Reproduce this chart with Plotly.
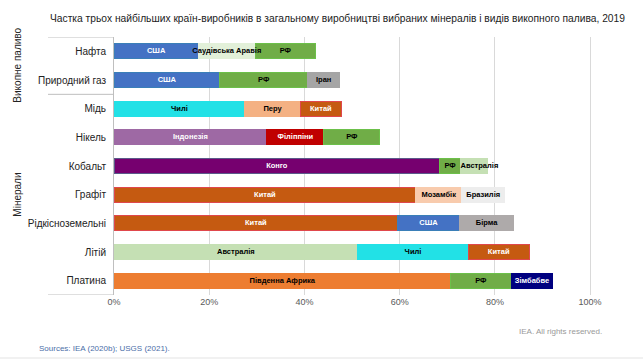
import plotly.graph_objects as go

categories = ["Нафта", "Природний газ", "Мідь", "Нікель", "Кобальт", "Графіт",
              "Рідкісноземельні", "Літій", "Платина"]
country1 = ["США", "США", "Чилі", "Індонезія", "Конго", "Китай", "Китай", "Австралія", "Південна Африка"]
share1 = [17.7, 22.2, 27.5, 32.1, 68.4, 63.4, 59.6, 51.2, 70.7]
country2 = ["Саудівська Аравія", "РФ", "Перу", "Філіппіни", "РФ", "Мозамбік", "США", "Чилі", "РФ"]
share2 = [12.0, 18.5, 11.6, 12.0, 4.4, 9.6, 12.9, 23.2, 12.7]
country3 = ["РФ", "Іран", "Китай", "РФ", "Австралія", "Бразилія", "Бірма", "Китай", "Зімбабве"]
share3 = [12.6, 6.7, 8.7, 11.7, 5.7, 9.1, 11.5, 12.8, 8.8]
x_ticks = [0, 20, 40, 60, 80, 100]
groups = ["Викопне паливо", "Мінерали"]

FILL = {
    "США": "#4472C4", "Саудівська Аравія": "#E2F0D9", "РФ": "#70AD47", "Іран": "#A5A5A5",
    "Чилі": "#22E1E6", "Перу": "#F4B183", "Китай": "#C55A11", "Індонезія": "#9E69A4",
    "Філіппіни": "#C00000", "Конго": "#76006F", "Австралія": "#C5E0B4", "Мозамбік": "#F8CBAD",
    "Бразилія": "#EDEDED", "Бірма": "#AEAAAA", "Південна Африка": "#ED7D31", "Зімбабве": "#000080",
}
EDGE = {"Китай": "#E0474C", "США": "#3A7FB8", "РФ": "#6CC04A", "Конго": "#5A5A8A"}
WHITE_TEXT = {"США", "Китай", "Індонезія", "Філіппіни", "Конго", "Зімбабве"}
# label alignment inside the third segment ("c" centred, "l" from the segment's left edge)
align3 = ["c", "c", "c", "c", "l", "c", "c", "c", "c"]

FONT = "Liberation Sans, Arial, sans-serif"

fig = go.Figure()
for countries, shares in [(country1, share1), (country2, share2), (country3, share3)]:
    fig.add_trace(go.Bar(
        y=categories, x=shares, orientation="h",
        marker=dict(color=[FILL[c] for c in countries],
                    line=dict(color=[EDGE.get(c, FILL[c]) for c in countries], width=1)),
        hoverinfo="skip", showlegend=False,
    ))

# labels drawn on top of all bars
lab_x, lab_y, lab_t, lab_c, lab_p = [], [], [], [], []
for i, cat in enumerate(categories):
    b1, b2 = share1[i], share1[i] + share2[i]
    segs = [(country1[i], 0, share1[i], "c"), (country2[i], b1, share2[i], "c"),
            (country3[i], b2, share3[i], align3[i])]
    for name, base, width, al in segs:
        lab_y.append(cat)
        lab_t.append(name)
        lab_c.append("#FFFFFF" if name in WHITE_TEXT else "#000000")
        if al == "l":
            lab_x.append(base)
            lab_p.append("middle right")
        else:
            lab_x.append(base + width / 2)
            lab_p.append("middle center")

fig.add_trace(go.Scatter(
    x=lab_x, y=lab_y, mode="text", text=lab_t, textposition=lab_p,
    textfont=dict(family=FONT, size=7.5, color=lab_c, weight="bold"),
    hoverinfo="skip", showlegend=False,
))

L, R_PX, T, B = 114, 592, 37, 295
W = R_PX - L
H = B - T

def px(x):
    return (x - L) / W

def py(y):
    return (B - y) / H

fig.update_layout(
    width=643, height=360,
    margin=dict(l=L, r=643 - R_PX, t=T, b=360 - B),
    barmode="stack", bargap=0.48,
    plot_bgcolor="white", paper_bgcolor="white",
    font=dict(family=FONT, color="#333333"),
    title=dict(text="Частка трьох найбільших країн-виробників в загальному виробництві вибраних мінералів і видів викопного палива, 2019",
               x=50 / 643, xanchor="left", xref="container",
               y=1 - 18 / 360, yanchor="middle", yref="container",
               font=dict(family=FONT, size=10.25, color="#222222")),
    xaxis=dict(range=[0, 100.4], tickvals=x_ticks, ticktext=[f"{v}%" for v in x_ticks],
               showgrid=True, gridcolor="#D9D9D9", gridwidth=1, zeroline=False,
               showline=False, ticks="", tickfont=dict(family=FONT, size=9, color="#595959")),
    yaxis=dict(categoryorder="array", categoryarray=categories, range=[8.5, -0.5],
               autorange=False, showgrid=False, showline=True, linecolor="#BFBFBF", linewidth=1,
               ticks="", ticklabelstandoff=5,
               tickfont=dict(family=FONT, size=10, color="#222222")),
)

# group bracket lines
for yv in [-0.5, 1.5, 8.5]:
    fig.add_shape(type="line", xref="paper", yref="y", x0=px(48), x1=0, y0=yv, y1=yv,
                  line=dict(color="#BFBFBF", width=1))

fig.add_annotation(text=groups[0], xref="paper", yref="y", x=px(18), y=0.5,
                   textangle=-90, showarrow=False, xanchor="center", yanchor="middle",
                   font=dict(family=FONT, size=10, color="#222222"))
fig.add_annotation(text=groups[1], xref="paper", yref="y", x=px(18), y=5.0,
                   textangle=-90, showarrow=False, xanchor="center", yanchor="middle",
                   font=dict(family=FONT, size=10, color="#222222"))

fig.add_annotation(text="IEA. All rights reserved.", xref="paper", yref="paper",
                   x=px(604), y=py(331), xanchor="right", yanchor="middle", showarrow=False,
                   font=dict(family=FONT, size=8, color="#999999"))
fig.add_annotation(text="Sources: IEA (2020b); USGS (2021).", xref="paper", yref="paper",
                   x=px(37), y=py(348), xanchor="left", yanchor="middle", showarrow=False,
                   font=dict(family=FONT, size=8, color="#4A6EA8"))
fig.add_shape(type="line", xref="paper", yref="paper", x0=px(0), x1=px(643),
              y0=py(358), y1=py(358), line=dict(color="#E3E3E3", width=1))

fig.write_html("out.html", config={"displayModeBar": False},
               post_script="document.body.style.margin='0';")
